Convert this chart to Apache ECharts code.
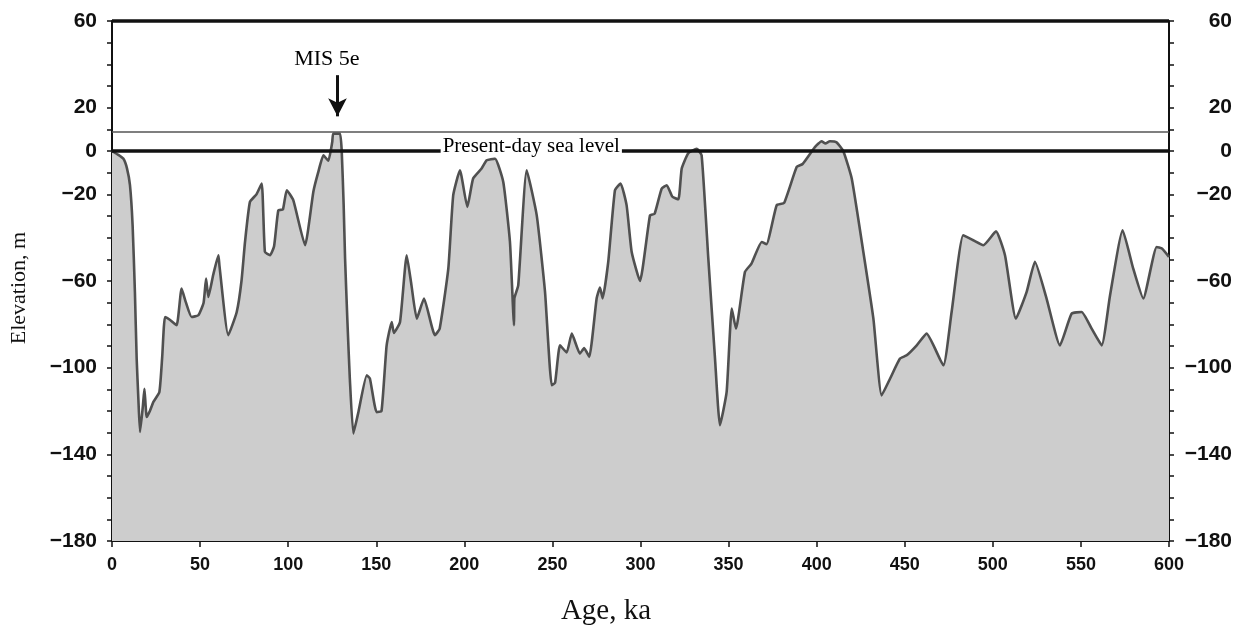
<!DOCTYPE html>
<html><head><meta charset="utf-8">
<script src="https://cdn.jsdelivr.net/npm/echarts@6/dist/echarts.min.js"></script>
<style>html,body{margin:0;padding:0;background:#fff}#c{width:1238px;height:627px}</style>
</head><body><div id="c"></div>
<script>
// Age (ka) and sea-level elevation (m)
const ages = [0,3,6.4,8.5,10.2,11.7,13,14,15,15.9,17.5,18.4,19.7,21.5,23.5,26.9,28.5,30.1,33,36.7,39.5,42,45.2,49,52,53.4,54.7,57.5,60.4,61,66,70.8,73.5,75.5,78.3,82,85,86.8,89.7,92,94.4,97,99.2,102.9,109.6,114.3,117,120,122.8,125,125.6,129.4,130.4,131.5,132.3,133.6,135,137,140,144.6,146.4,150.2,153,155.9,158.8,160,163.5,167.3,170,173,177.1,183.3,186,190.9,193.7,197.5,201.7,205,209.8,212.7,217.4,222.1,225.9,228.2,228.4,230.6,235.4,241.1,245.8,249.6,251.5,254.3,258.1,261,265.6,268,270.9,275.1,277,278.5,281.7,285.5,288.7,292.1,295,299.7,305.4,308,312,314.9,318,321.5,323.4,327.1,331.9,334.7,338.5,342.3,345.1,348.9,351.8,354.2,359.3,363,368.8,371.5,377.3,381.5,388.7,392,399,402.8,405,407.5,411.3,415.1,419.9,426.5,432.2,436.9,441.7,447.3,451.1,456.8,462.4,471.9,476.6,483.2,488.9,494.6,501.8,506.9,513.1,519.2,523.9,530.5,538.1,544.7,550.4,556.1,561.8,566.5,573.7,579.7,585.4,593,596,600];
const elevations = [0,-1.5,-3.5,-8,-15.8,-34.3,-65,-95.8,-115,-129.7,-118,-109.7,-122.8,-120,-115.8,-111.2,-95,-76.6,-78,-80.4,-63.5,-70,-76.6,-75.8,-70,-58.9,-67.4,-57,-48.1,-53,-85,-74.3,-60,-42,-23.5,-20,-15,-46.6,-48.1,-44,-27.4,-27,-18.1,-22.7,-43.5,-18.8,-10,-2,-4.5,4,8,8,0,-25,-49.5,-78,-105,-130.4,-120,-103.5,-105,-120.5,-120,-89.7,-78.9,-84,-78.9,-48.1,-62,-77.4,-68.1,-85,-82,-54.3,-20.4,-8.9,-25.8,-12.7,-8.1,-4.3,-3.5,-14.3,-42,-80.4,-68,-62,-8.9,-29.7,-65,-108.1,-107,-89.7,-93,-84.3,-93.5,-91,-95,-68.1,-63,-68,-51.1,-18.1,-15,-25,-46.6,-60,-29.7,-29,-17.4,-15.8,-21,-22.3,-8.1,-1,1,-2,-49.7,-95.8,-126.6,-111.2,-72.7,-82,-55.8,-52,-42,-43,-25,-24,-7.3,-6,1.8,4.5,3.5,4.5,4,0,-12.7,-46.6,-77.4,-112.8,-105,-95.8,-94.3,-89.7,-84.3,-98.9,-74.3,-38.9,-41.2,-43.5,-37.1,-48.1,-77.4,-65,-51.1,-68.1,-89.7,-75.1,-74.3,-82,-89.7,-66.8,-36.6,-54.3,-68.1,-44.3,-45,-48.9];
const yTickLabels = [60, 20, 0, -20, -60, -100, -140, -180];
const xTickLabels = [0, 50, 100, 150, 200, 250, 300, 350, 400, 450, 500, 550, 600];
const presentSeaLevel = 0;
const mis5eLevel = 9;
const topFrameLevel = 60;
const presentLabel = { text: 'Present-day sea level', age: 238, elevation: 2 };
const misLabel = { text: 'MIS 5e', age: 122, elevation: 42.4 };
const misArrow = { age: 128, from: 35, to: 16 };

const chart = echarts.init(document.getElementById('c'), null, { renderer: 'canvas' });
const fmtY = v => yTickLabels.indexOf(v) >= 0 ? (v < 0 ? '\u2212' + Math.abs(v) : String(v)) : '';
const yLabelBase = { fontFamily: 'Liberation Sans', fontWeight: 'bold', fontSize: 21, color: '#111', formatter: fmtY };
const yAxisBase = {
  type: 'value', min: -180, max: 60, interval: 10,
  axisLine: { show: true, onZero: false, lineStyle: { color: '#111', width: 2 } },
  axisTick: { show: true, inside: false, length: 5, lineStyle: { color: '#111', width: 1.5 } },
  splitLine: { show: false }
};
const series = [
  {
    type: 'line', name: 'sea level',
    data: ages.map((a, i) => [a, elevations[i]]),
    symbol: 'none', smooth: 0.15,
    lineStyle: { color: '#505050', width: 2.6 },
    areaStyle: { color: '#cdcdcd', origin: 'start', opacity: 1 },
    z: 2,
    markLine: {
      silent: true, symbol: ['none', 'none'], label: { show: false },
      data: [
        { yAxis: topFrameLevel, lineStyle: { color: '#111', width: 3.5, type: 'solid' } },
        { yAxis: presentSeaLevel, lineStyle: { color: '#111', width: 3.5, type: 'solid' } },
        { yAxis: mis5eLevel, lineStyle: { color: '#555', width: 1.5, type: 'solid' } }
      ]
    }
  },
  {
    type: 'scatter', name: 'labels', z: 10, symbolSize: 0,
    itemStyle: { opacity: 1 },
    data: [[presentLabel.age, presentLabel.elevation]],
    label: {
      show: true, position: 'inside', formatter: presentLabel.text, opacity: 1,
      fontFamily: 'Liberation Serif', fontSize: 21, color: '#000',
      backgroundColor: '#fff', padding: [0, 2]
    },
    markLine: {
      silent: true, symbol: ['none', 'arrow'], symbolSize: [14, 18], label: { show: false },
      lineStyle: { color: '#111', width: 3, type: 'solid', opacity: 1 },
      data: [[{ coord: [misArrow.age, misArrow.from] }, { coord: [misArrow.age, misArrow.to] }]]
    }
  },
  {
    type: 'scatter', name: 'mis', z: 10, symbolSize: 0,
    itemStyle: { opacity: 1 },
    data: [[misLabel.age, misLabel.elevation]],
    label: {
      show: true, position: 'inside', formatter: misLabel.text, opacity: 1,
      fontFamily: 'Liberation Serif', fontSize: 22, color: '#000'
    }
  }
];
const option = {
  backgroundColor: '#fff',
  animation: false,
  grid: { left: 112, right: 69, top: 21, bottom: 86, outerBoundsMode: 'none', containLabel: false },
  xAxis: [
    {
      type: 'value', min: 0, max: 600, interval: 50, position: 'bottom',
      axisLine: { show: true, onZero: false, lineStyle: { color: '#111', width: 2 } },
      axisTick: { show: true, inside: true, length: 6, lineStyle: { color: '#111', width: 1.5 } },
      minorTick: { show: true, splitNumber: 5, length: 5, lineStyle: { color: '#111', width: 1.5 } },
      axisLabel: {
        margin: 15, fontFamily: 'Liberation Sans', fontWeight: 'bold', fontSize: 18, color: '#111',
        formatter: v => xTickLabels.indexOf(v) >= 0 ? String(v) : ''
      },
      splitLine: { show: false }
    },
    {
      type: 'value', min: 0, max: 600, interval: 50, position: 'bottom', offset: 0,
      axisLine: { show: false, onZero: false },
      axisTick: { show: true, inside: false, length: 6, lineStyle: { color: '#111', width: 1.5 } },
      axisLabel: { show: false }, splitLine: { show: false }
    }
  ],
  yAxis: [
    Object.assign({}, yAxisBase, { position: 'left', axisLabel: Object.assign({ margin: 15 }, yLabelBase) }),
    Object.assign({}, yAxisBase, { position: 'right', axisLabel: Object.assign({ margin: 63, align: 'right' }, yLabelBase) })
  ],
  graphic: [
    { type: 'text', x: 606, y: 611, style: { text: 'Age, ka', fontFamily: 'Liberation Serif', fontSize: 29, fill: '#111', align: 'center', verticalAlign: 'middle' } },
    { type: 'text', x: 19, y: 288, rotation: Math.PI / 2, style: { text: 'Elevation, m', fontFamily: 'Liberation Serif', fontSize: 22, fill: '#111', align: 'center', verticalAlign: 'middle' } }
  ],
  series: series
};
chart.setOption(option);
</script></body></html>
